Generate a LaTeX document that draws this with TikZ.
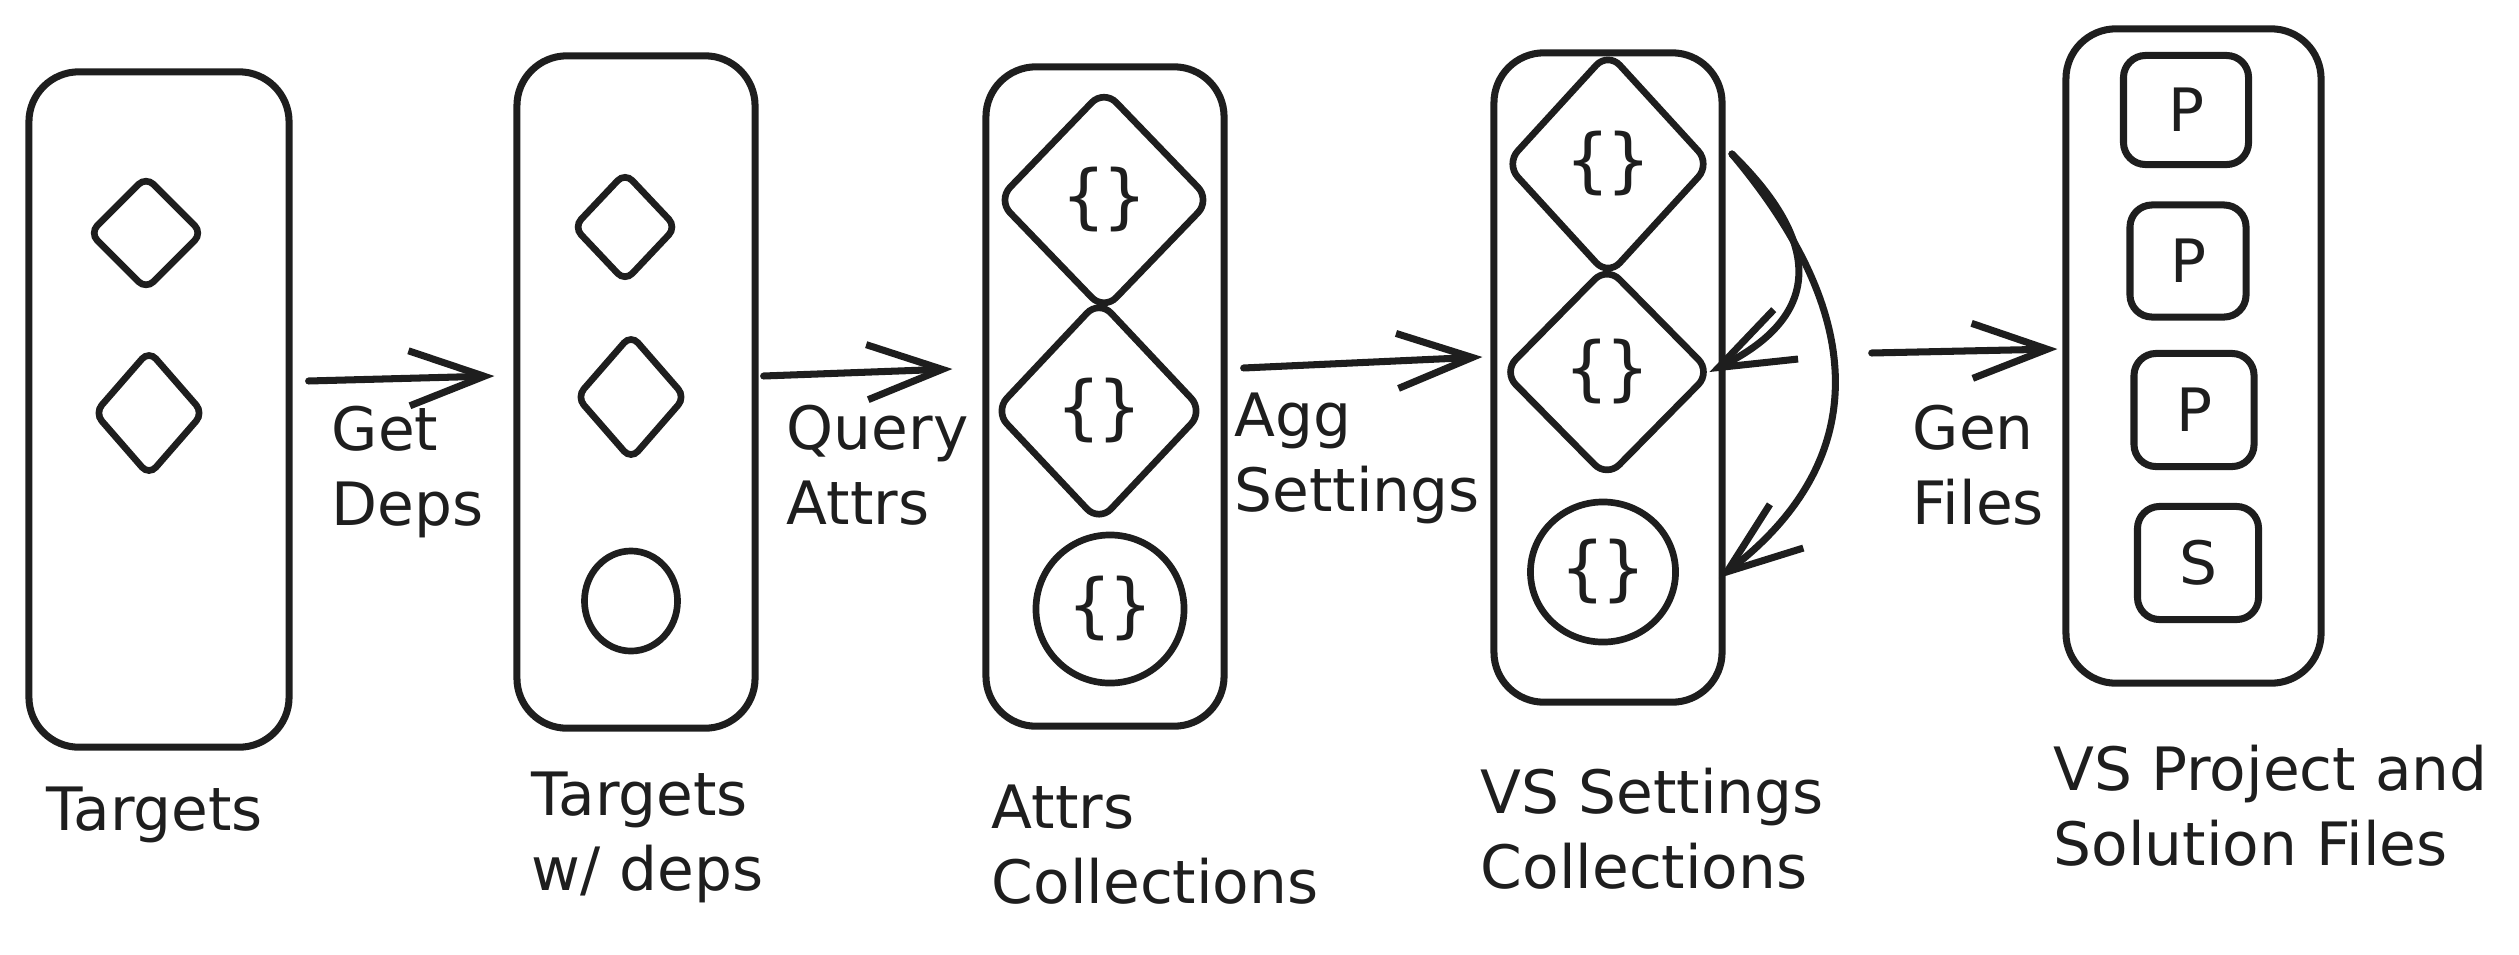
\documentclass[tikz,border=0pt]{standalone}
\usepackage{fontspec}
\setmainfont{DejaVu Sans}
\usetikzlibrary{arrows.meta,shapes.geometric,calc}
\definecolor{ink}{HTML}{1E1E1E}
\begin{document}
\begin{tikzpicture}[x=0.01cm,y=-0.01cm,
  every node/.style={inner sep=0pt, text=ink},
  container/.style={draw=ink, line width=2pt, rounded corners=0.5cm},
  dia/.style={draw=ink, line width=1.9pt, diamond, rounded corners=3pt},
  bigdia/.style={draw=ink, line width=1.9pt, diamond, rounded corners=5pt},
  oval/.style={draw=ink, line width=1.9pt, ellipse},
  file/.style={draw=ink, line width=2pt, rectangle, rounded corners=0.22cm, font=\fontsize{17}{20}\selectfont},
  brace/.style={font=\fontsize{20}{22}\selectfont},
  lbl/.style={font=\fontsize{17}{21.3}\selectfont, align=left, anchor=base west},
  arr/.style={draw=ink, line width=2pt, line cap=round, line join=round,
    -{Straight Barb[length=0.75cm,width=0.55cm,line width=2pt]}}
]
\useasboundingbox (0,0) rectangle (2519,954);

% containers
\node[container, minimum width=2.60cm, minimum height=6.75cm] (box1) at (159,409.5) {};
\node[container, minimum width=2.38cm, minimum height=6.72cm] (box2) at (636,392) {};
\node[container, minimum width=2.38cm, minimum height=6.59cm] (box3) at (1105,396.5) {};
\node[container, minimum width=2.28cm, minimum height=6.49cm] (box4) at (1608,377.5) {};
\node[container, minimum width=2.55cm, minimum height=6.54cm] (box5) at (2193.5,356) {};

% box 1
\node[dia, minimum width=1.15cm, minimum height=1.15cm] (d1a) at (146,233) {};
\node[dia, minimum width=1.11cm, minimum height=1.27cm] (d1b) at (149,413) {};

% box 2
\node[dia, minimum width=1.05cm, minimum height=1.11cm] (d2a) at (625,227) {};
\node[dia, minimum width=1.11cm, minimum height=1.27cm] (d2b) at (631,397) {};
\node[oval, minimum width=0.93cm, minimum height=1.00cm] (c2) at (631,601) {};

% box 3
\node[bigdia, minimum width=2.15cm, minimum height=2.23cm] (d3a) at (1104,200) {};
\node[brace] at (d3a) {\{\kern-1pt\}};
\node[bigdia, minimum width=2.11cm, minimum height=2.24cm] (d3b) at (1099,411) {};
\node[brace] at (d3b) {\{\kern-1pt\}};
\node[oval, minimum width=1.48cm, minimum height=1.48cm] (c3) at (1110,609) {};
\node[brace] at (c3) {\{\kern-1pt\}};

% box 4
\node[bigdia, minimum width=2.07cm, minimum height=2.26cm] (d4a) at (1608,164) {};
\node[brace] at (d4a) {\{\kern-1pt\}};
\node[bigdia, minimum width=2.10cm, minimum height=2.13cm] (d4b) at (1607,372) {};
\node[brace] at (d4b) {\{\kern-1pt\}};
\node[oval, minimum width=1.45cm, minimum height=1.40cm] (c4) at (1603,572) {};
\node[brace] at (c4) {\{\kern-1pt\}};

% box 5
\node[file, minimum width=1.25cm, minimum height=1.09cm] (p1) at (2186,110) {P};
\node[file, minimum width=1.16cm, minimum height=1.12cm] (p2) at (2188,261) {P};
\node[file, minimum width=1.20cm, minimum height=1.13cm] (p3) at (2194,410) {P};
\node[file, minimum width=1.21cm, minimum height=1.13cm] (s1) at (2198,563) {S};

% straight arrows
\draw[arr] ([xshift=0.16cm,yshift=0.285cm]box1.east) -- ([xshift=-0.19cm,yshift=0.16cm]box2.west);
\draw[arr] ([xshift=0.05cm,yshift=0.16cm]box2.east) -- ([xshift=-0.30cm,yshift=0.275cm]box3.west);
\draw[arr] ([xshift=0.16cm,yshift=0.285cm]box3.east) -- ([xshift=-0.08cm,yshift=0.205cm]box4.west);
\draw[arr] ([xshift=1.46cm,yshift=0.245cm]box4.east) -- ([xshift=-0.05cm,yshift=0.07cm]box5.west);

% curved arrows inside VS settings
\coordinate (loopstart) at ([xshift=0.17cm,yshift=0.10cm]d4a.east);
\draw[arr] (loopstart) .. controls (1830,250) and (1815,320) .. ([xshift=-0.06cm]d4b.east);
\draw[arr] (loopstart) .. controls (1880,330) and (1860,470) .. ([xshift=0.40cm,yshift=-0.06cm]c4.east);

% arrow labels (base anchor = last line)
\node[lbl] (l1) at (331,525) {Get\\Deps};
\node[lbl] (l2) at (786,524) {Query\\Attrs};
\node[lbl] (l3) at (1234,511) {Agg\\Settings};
\node[lbl] (l4) at (1912,524) {Gen\\Files};

% captions
\node[lbl] (t1) at (46,830) {Targets};
\node[lbl] (t2) at (531,890) {Targets\\w/ deps};
\node[lbl] (t3) at (991,903) {Attrs\\Collections};
\node[lbl] (t4) at (1480,888) {VS Settings\\Collections};
\node[lbl] (t5) at (2053,865) {VS Project and\\Solution Files};
\end{tikzpicture}
\end{document}
